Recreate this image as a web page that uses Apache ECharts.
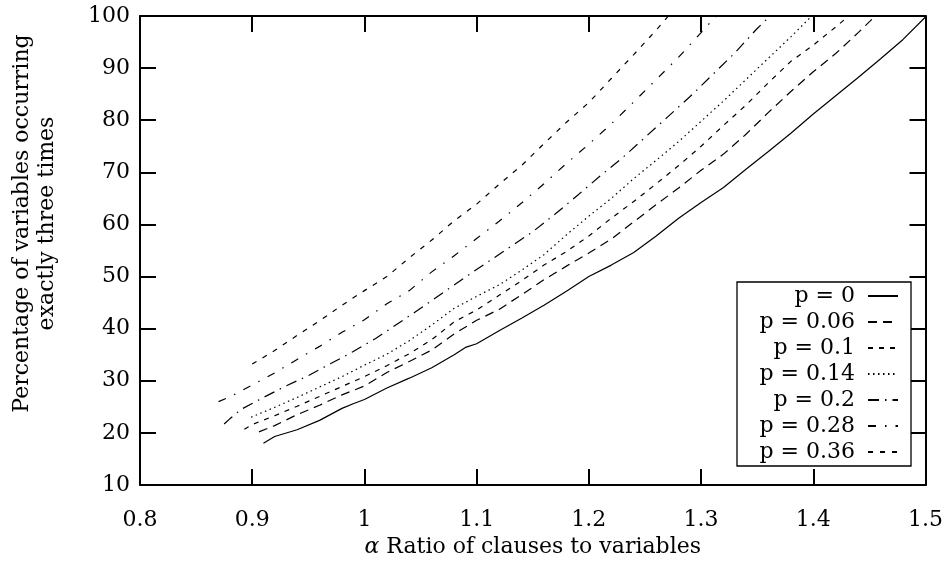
<!DOCTYPE html>
<html>
<head>
<meta charset="utf-8">
<script src="https://cdn.jsdelivr.net/npm/echarts@6/dist/echarts.min.js"></script>
<style>html,body{margin:0;padding:0;background:#fff}#c{width:946px;height:566px}</style>
</head>
<body>
<div id="c"></div>
<script>
// ---- data ----
const xTicks = [0.8, 0.9, 1, 1.1, 1.2, 1.3, 1.4, 1.5];
const yTicks = [10, 20, 30, 40, 50, 60, 70, 80, 90, 100];

const names = ['p = 0', 'p = 0.06', 'p = 0.1', 'p = 0.14', 'p = 0.2', 'p = 0.28', 'p = 0.36'];

const x_p0 = [0.91,0.92,0.94,0.96,0.98,0.99,1.00,1.02,1.04,1.06,1.08,1.09,1.10,1.12,1.14,1.16,1.18,1.20,1.22,1.24,1.26,1.28,1.30,1.32,1.34,1.36,1.38,1.40,1.42,1.44,1.46,1.48,1.50];
const y_p0 = [18.0,19.3,20.6,22.4,24.7,25.6,26.4,28.6,30.5,32.5,35.0,36.4,37.1,39.6,42.0,44.5,47.2,50.0,52.2,54.6,57.8,61.2,64.2,67.1,70.6,74.0,77.5,81.2,84.7,88.2,91.8,95.5,99.8];

const x_p006 = [0.906,0.92,0.94,0.96,0.98,1.00,1.02,1.04,1.06,1.08,1.10,1.12,1.14,1.16,1.18,1.20,1.22,1.24,1.26,1.28,1.30,1.32,1.34,1.36,1.38,1.40,1.42,1.44,1.46];
const y_p006 = [20.2,21.4,23.5,25.3,27.3,29.0,31.6,33.7,35.9,39.0,41.6,43.7,46.5,49.4,52.0,54.5,57.2,60.5,63.8,67.0,70.4,73.5,77.3,81.5,85.5,89.3,92.8,96.8,101.0];

const x_p01 = [0.893,0.90,0.92,0.94,0.96,0.98,1.00,1.02,1.04,1.06,1.08,1.10,1.12,1.14,1.16,1.18,1.20,1.22,1.24,1.26,1.28,1.30,1.32,1.34,1.36,1.38,1.40,1.42,1.44];
const y_p01 = [20.7,21.6,23.3,25.1,27.0,28.9,30.8,32.9,35.2,37.9,41.3,43.6,46.4,49.2,52.2,54.8,57.8,61.2,64.4,67.8,71.3,75.0,79.0,82.9,87.2,91.3,94.4,97.9,101.5];

const x_p014 = [0.899,0.92,0.94,0.96,0.98,1.00,1.02,1.04,1.06,1.08,1.10,1.12,1.14,1.16,1.18,1.20,1.22,1.24,1.26,1.28,1.30,1.32,1.34,1.36,1.38,1.40];
const y_p014 = [23.0,24.9,26.8,28.8,30.8,33.0,35.1,37.7,40.7,43.9,46.2,48.4,51.2,54.2,58.0,61.6,65.0,68.8,72.3,75.9,79.8,83.7,87.8,91.9,96.0,100.3];

const x_p02 = [0.875,0.88,0.89,0.91,0.93,0.95,0.97,0.99,1.01,1.03,1.05,1.07,1.09,1.11,1.13,1.15,1.17,1.19,1.21,1.23,1.25,1.27,1.29,1.31,1.33,1.35,1.36,1.37];
const y_p02 = [21.7,22.7,24.5,26.8,29.0,31.0,33.3,35.6,38.1,41.0,43.9,46.9,49.9,52.8,55.7,58.6,62.0,65.6,69.3,72.8,76.7,80.6,84.5,88.7,92.9,97.6,99.7,102.0];

const x_p028 = [0.87,0.88,0.90,0.92,0.94,0.96,0.98,1.00,1.02,1.04,1.06,1.08,1.10,1.12,1.14,1.16,1.18,1.20,1.22,1.24,1.26,1.28,1.30,1.31,1.32];
const y_p028 = [26.0,26.9,29.2,31.5,34.1,36.6,39.3,41.7,44.8,47.3,50.9,54.0,57.3,60.6,64.1,67.8,71.7,75.4,79.3,83.5,87.8,92.1,96.8,99.2,101.3];

const x_p036 = [0.90,0.92,0.94,0.96,0.98,1.00,1.02,1.04,1.06,1.08,1.10,1.12,1.14,1.16,1.18,1.20,1.22,1.24,1.26,1.27,1.28];
const y_p036 = [33.2,35.8,38.7,41.5,44.5,47.3,50.0,53.6,57.0,60.7,63.9,67.7,71.3,75.5,79.6,83.4,88.0,92.6,97.3,99.8,102.0];

const xs = [x_p0, x_p006, x_p01, x_p014, x_p02, x_p028, x_p036];
const ys = [y_p0, y_p006, y_p01, y_p014, y_p02, y_p028, y_p036];

// ---- styles ----
const dashes = ['solid', [9, 6], [5, 6], [1.5, 3.5], [11, 6, 1.5, 6], [8, 9, 1.5, 9], [5, 7]];
const FONT = "'DejaVu Serif', 'Liberation Serif', serif";
const FS = 22;

const series = names.map((n, i) => ({
  name: n,
  type: 'line',
  data: xs[i].map((x, j) => [x, ys[i][j]]),
  symbol: 'none',
  showSymbol: false,
  smooth: false,
  clip: true,
  color: '#000',
  lineStyle: { color: '#000', width: 1.2, type: dashes[i] },
  emphasis: { disabled: true },
  silent: true,
  animation: false
}));

const fmtX = v => String(Math.round(v * 10) / 10);

const axisCommon = {
  type: 'value',
  axisLine: { show: true, lineStyle: { color: '#000', width: 2 } },
  axisTick: { show: true, inside: true, length: 16, lineStyle: { color: '#000', width: 2 } },
  splitLine: { show: false }
};

const chart = echarts.init(document.getElementById('c'), null, { renderer: 'canvas' });
chart.setOption({
  backgroundColor: '#fff',
  animation: false,
  grid: { left: 140, right: 19, top: 16, bottom: 81, containLabel: false },
  xAxis: [
    Object.assign({}, axisCommon, {
      position: 'bottom', min: xTicks[0], max: xTicks[xTicks.length - 1], interval: 0.1,
      axisLabel: { show: true, margin: 24, color: '#000', fontSize: FS, fontFamily: FONT, formatter: fmtX, showMinLabel: true, showMaxLabel: true },
      name: '{a|α} Ratio of clauses to variables',
      nameLocation: 'middle', nameGap: 50,
      nameTextStyle: { color: '#000', fontSize: FS, fontFamily: FONT, rich: { a: { fontStyle: 'italic', fontSize: FS, fontFamily: FONT, color: '#000' } } }
    }),
    Object.assign({}, axisCommon, {
      position: 'top', min: xTicks[0], max: xTicks[xTicks.length - 1], interval: 0.1,
      axisLabel: { show: false }
    })
  ],
  yAxis: [
    Object.assign({}, axisCommon, {
      position: 'left', min: yTicks[0], max: yTicks[yTicks.length - 1], interval: 10,
      axisLabel: { show: true, margin: 10, color: '#000', fontSize: FS, fontFamily: FONT, showMinLabel: true, showMaxLabel: true },
      name: 'Percentage of variables occurring\nexactly three times',
      nameLocation: 'middle', nameGap: 80, nameRotate: 90,
      nameTextStyle: { color: '#000', fontSize: FS, fontFamily: FONT, lineHeight: 25, align: 'center', padding: [0, 0, 0, 54] }
    }),
    Object.assign({}, axisCommon, {
      position: 'right', min: yTicks[0], max: yTicks[yTicks.length - 1], interval: 10,
      axisLabel: { show: false }
    })
  ],
  legend: {
    orient: 'vertical', left: 737, top: 282, align: 'right',
    itemWidth: 30, itemHeight: 14, itemGap: 4,
    padding: [3, 12, 3, 6],
    borderColor: '#000', borderWidth: 1.3, backgroundColor: '#fff',
    selectedMode: false,
    data: names,
    itemStyle: { color: 'rgba(0,0,0,0)', borderWidth: 0, opacity: 0 },
    formatter: n => '{t|' + n + '}',
    textStyle: { color: '#000', fontSize: FS, fontFamily: FONT,
      rich: { t: { width: 112, align: 'right', fontSize: FS, fontFamily: FONT, color: '#000', lineHeight: 22.5, padding: [0, 8, 0, 0] } } }
  },
  series: series
});
</script>
</body>
</html>
